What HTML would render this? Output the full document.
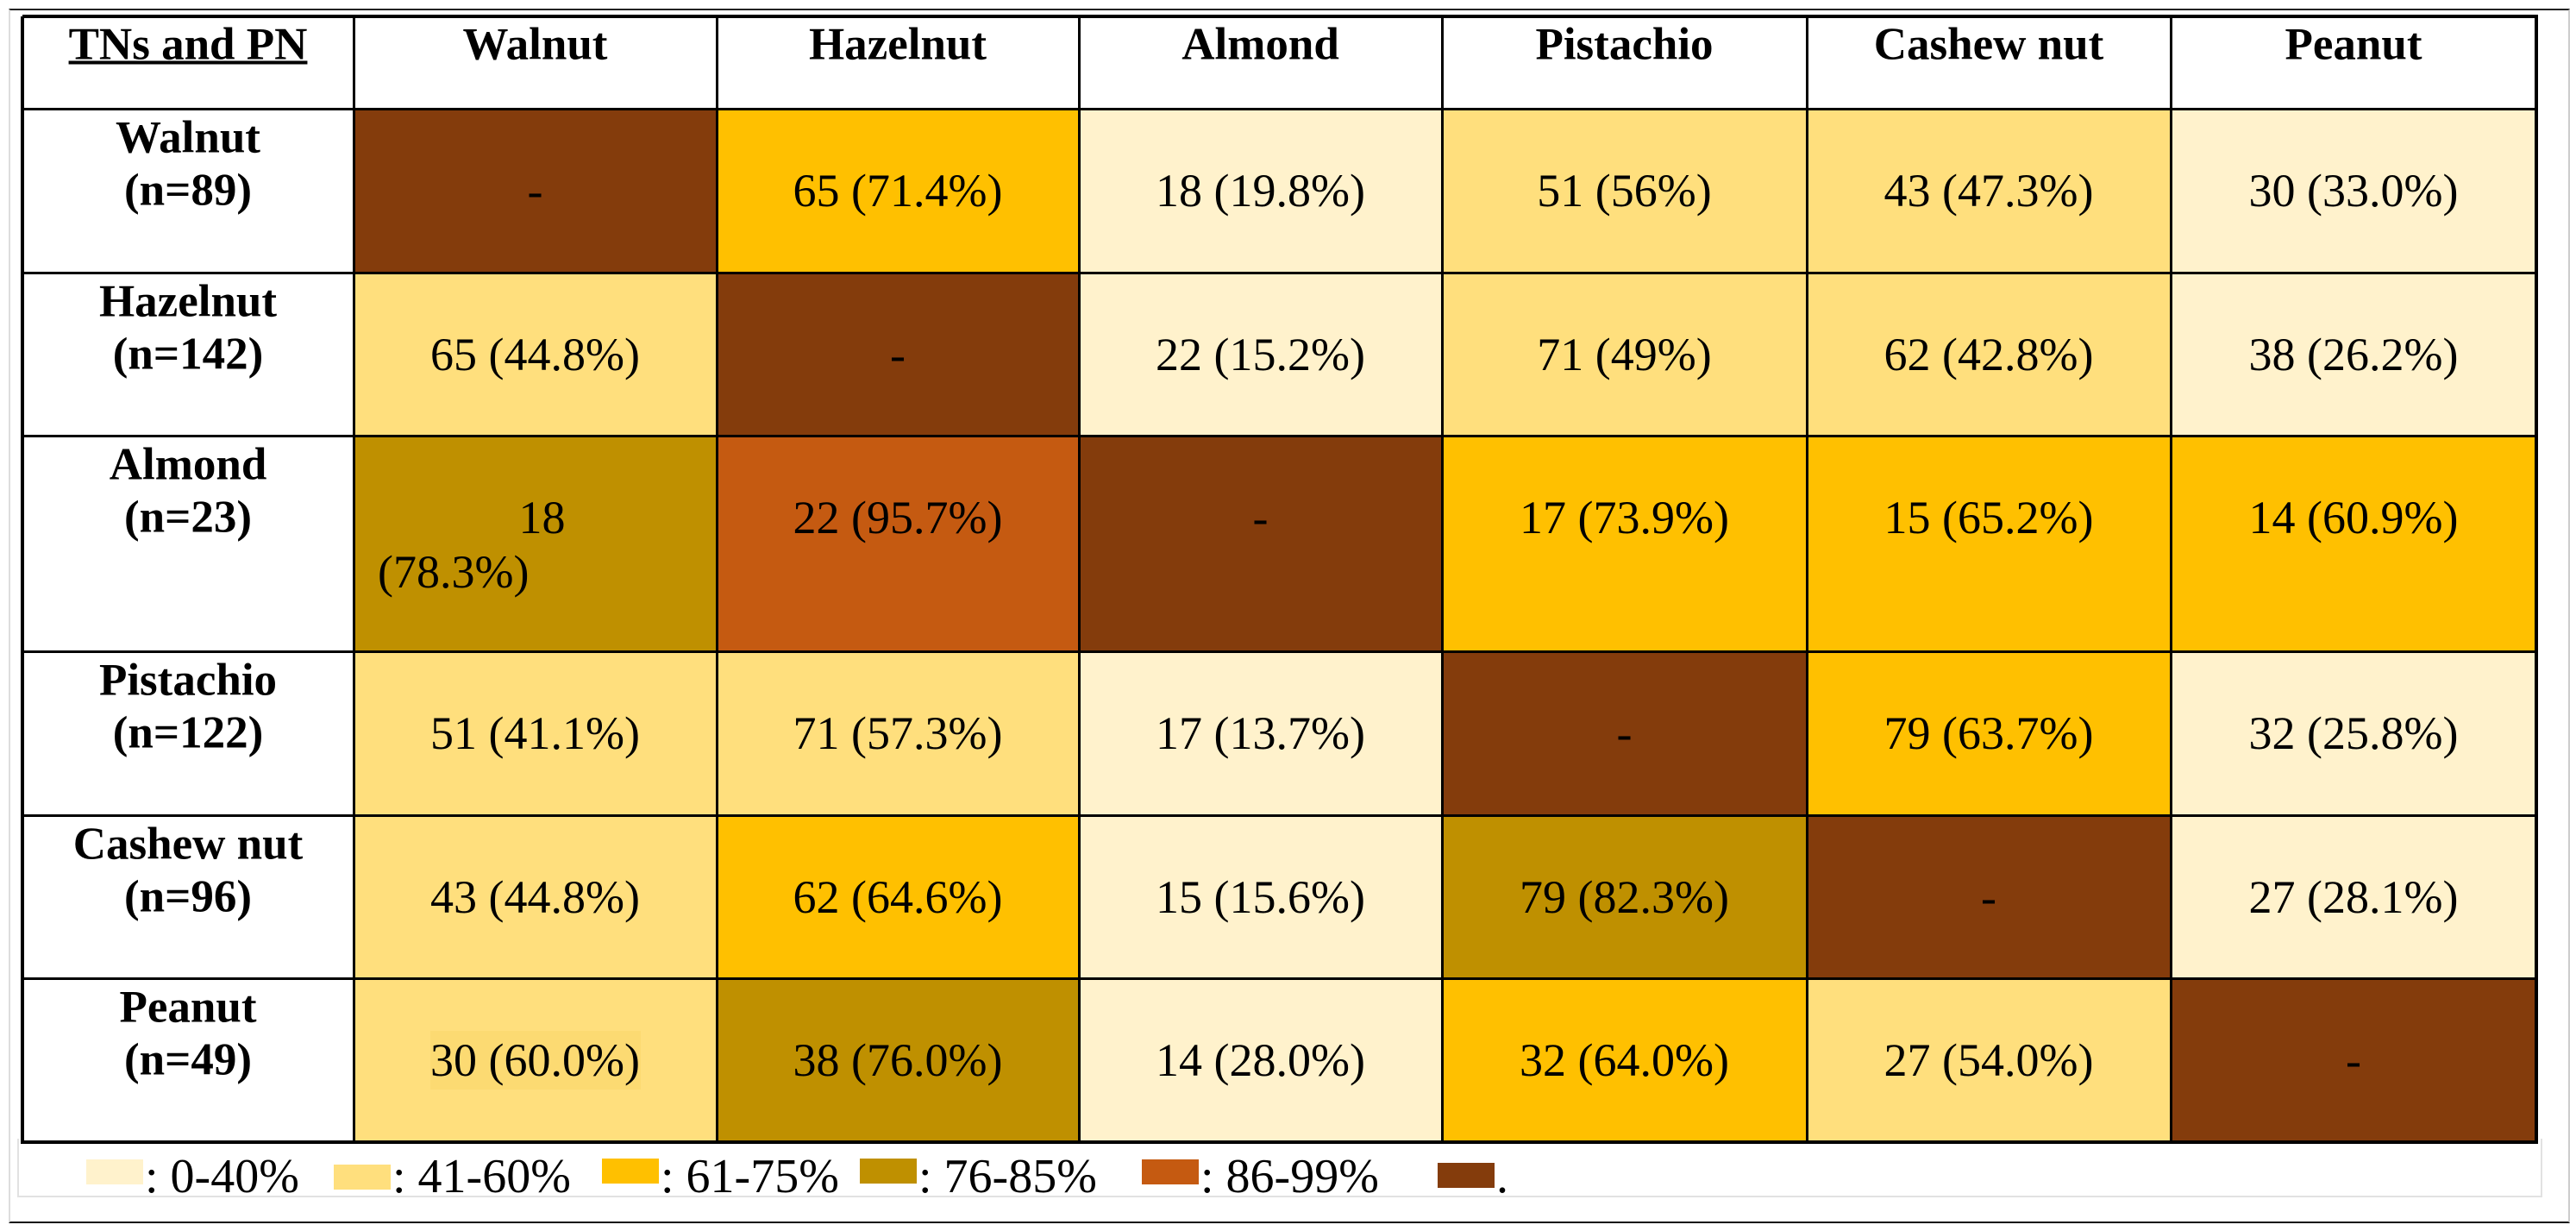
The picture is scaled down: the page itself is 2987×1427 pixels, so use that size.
<!DOCTYPE html>
<html><head><meta charset="utf-8">
<style>
html,body{margin:0;padding:0;background:#fff;}
#root{position:relative;width:2987px;height:1427px;overflow:hidden;font-family:"Liberation Serif","DejaVu Serif","Times New Roman",serif;color:#000;}
#root div{font-family:"Liberation Serif","DejaVu Serif","Times New Roman",serif;}
.abs{position:absolute;}
.cell{position:absolute;box-sizing:border-box;}
.txt{position:absolute;white-space:nowrap;transform:translate(-50%,-50%);font-size:54px;line-height:1;}
.hdr{position:absolute;white-space:nowrap;transform:translate(-50%,-50%);font-size:53px;font-weight:bold;line-height:1;}
.line{position:absolute;background:#000;}
.leg{position:absolute;font-size:56px;line-height:1;white-space:nowrap;}
</style></head>
<body>
<div id="root">
  <div class="abs" style="left:10px;top:10px;width:2966px;height:1404px;border-top:2px solid #222;border-bottom:2px solid #111;border-left:2px solid #ddd;border-right:2px solid #ccc;"></div>
  <div class="abs" style="left:20px;top:1320px;width:2924px;height:66px;border:2px solid #e2e2e2;border-top:none;"></div>
  <div id="grid"></div>
  <div id="legend"></div>
</div>
<script>
const categories = ["Walnut","Hazelnut","Almond","Pistachio","Cashew nut","Peanut"];
const rowN = [89,142,23,122,96,49];
const counts = [
 [null,65,18,51,43,30],
 [65,null,22,71,62,38],
 [18,22,null,17,15,14],
 [51,71,17,null,79,32],
 [43,62,15,79,null,27],
 [30,38,14,32,27,null]
];
const percents = [
 [null,"71.4","19.8","56","47.3","33.0"],
 ["44.8",null,"15.2","49","42.8","26.2"],
 ["78.3","95.7",null,"73.9","65.2","60.9"],
 ["41.1","57.3","13.7",null,"63.7","25.8"],
 ["44.8","64.6","15.6","82.3",null,"28.1"],
 ["60.0","76.0","28.0","64.0","54.0",null]
];
const legendLabels = [": 0-40%",": 41-60%",": 61-75%",": 76-85%",": 86-99%","."];
const binColors = ["#FFF2CC","#FFDF7D","#FFC000","#BF9000","#C55A11","#843C0C"];

const colX = [26,410,831,1251,1672,2095,2517,2941];
const rowY = [19,126,316,505,755,945,1134,1324];

function binOf(p){
  if(p===null) return 5;
  const v=parseFloat(p);
  if(v<=40.5) return 0;
  if(v<=60.5) return 1;
  if(v<=75.5) return 2;
  if(v<=85.5) return 3;
  return 4;
}
const grid=document.getElementById('grid');
function mk(cls,parent){const d=document.createElement('div');d.className=cls;parent.appendChild(d);return d;}

const corner=mk('hdr',grid);


corner.style.left=((colX[0]+colX[1])/2)+'px';corner.style.top='52px';
corner.style.textDecoration='underline';corner.style.textDecorationThickness='4px';
corner.textContent='TNs and PN';
categories.forEach((c,j)=>{
  const h=mk('hdr',grid);
  
  
  h.style.left=((colX[j+1]+colX[j+2])/2)+'px';h.style.top='52px';
  h.textContent=c;
});
categories.forEach((c,i)=>{
  const top=rowY[i+1];
  const l1=mk('hdr',grid);
  
  
  l1.style.left=((colX[0]+colX[1])/2)+'px';l1.style.top=(top+34)+'px';
  l1.textContent=c;
  const l2=mk('hdr',grid);
  
  
  l2.style.left=((colX[0]+colX[1])/2)+'px';l2.style.top=(top+95)+'px';
  l2.textContent='(n='+rowN[i]+')';
  for(let j=0;j<6;j++){
    const cell=mk('cell',grid);
    
    
    cell.style.left=colX[j+1]+'px';cell.style.top=top+'px';
    cell.style.width=(colX[j+2]-colX[j+1])+'px';cell.style.height=(rowY[i+2]-top)+'px';
    cell.style.background=binColors[binOf(percents[i][j])];
    const cx=(colX[j+1]+colX[j+2])/2, cy=top+95;
    if(counts[i][j]===null){
      const t=mk('txt',grid);
      
      
      t.style.left=cx+'px';t.style.top=cy+'px';t.textContent='-';
    } else if(i===2&&j===0){
      const t=mk('txt',grid);
      
      
      t.style.left=(cx+8)+'px';t.style.top=cy+'px';t.textContent=String(counts[i][j]);
      const t2=mk('txt',grid);
      
      
      t2.style.left=(colX[1]+28)+'px';t2.style.top=(cy+63)+'px';t2.style.transform='translate(0,-50%)';
      t2.textContent='('+percents[i][j]+'%)';
    } else {
      if(i===5&&j===0){
        const hl=mk('cell',grid);
        
        
        hl.style.left=(cx-122)+'px';hl.style.top=(cy-34)+'px';hl.style.width='244px';hl.style.height='68px';hl.style.background='#FCDA72';
      }
      const t=mk('txt',grid);
      
      
      t.style.left=cx+'px';t.style.top=cy+'px';
      t.textContent=counts[i][j]+' ('+percents[i][j]+'%)';
    }
  }
});
rowY.forEach((y,k)=>{
  const l=mk('line',grid);
  
  
  const w=(k===0||k===rowY.length-1)?4:3;
  l.style.left=colX[0]+'px';l.style.top=(y-Math.floor(w/2))+'px';
  l.style.width=(colX[7]-colX[0]+2)+'px';l.style.height=w+'px';
});
colX.forEach((x,k)=>{
  const l=mk('line',grid);
  
  
  const w=(k===0||k===colX.length-1)?4:3;
  l.style.left=(x-Math.floor(w/2))+'px';l.style.top=rowY[0]+'px';
  l.style.width=w+'px';l.style.height=(rowY[7]-rowY[0]+2)+'px';
});
const legend=document.getElementById('legend');
const swX=[100,387,698,997,1324,1667];
const swY=[1344,1350,1343,1343,1344,1348];
legendLabels.forEach((lab,k)=>{
  const s=mk('abs',legend);
  
  
  s.style.left=swX[k]+'px';s.style.top=swY[k]+'px';s.style.width='66px';s.style.height='29px';
  s.style.background=binColors[k];
  const t=mk('leg',legend);
  
  
  t.style.left=(swX[k]+68)+'px';t.style.top='1336px';
  t.textContent=lab;
});
</script>
</body></html>
